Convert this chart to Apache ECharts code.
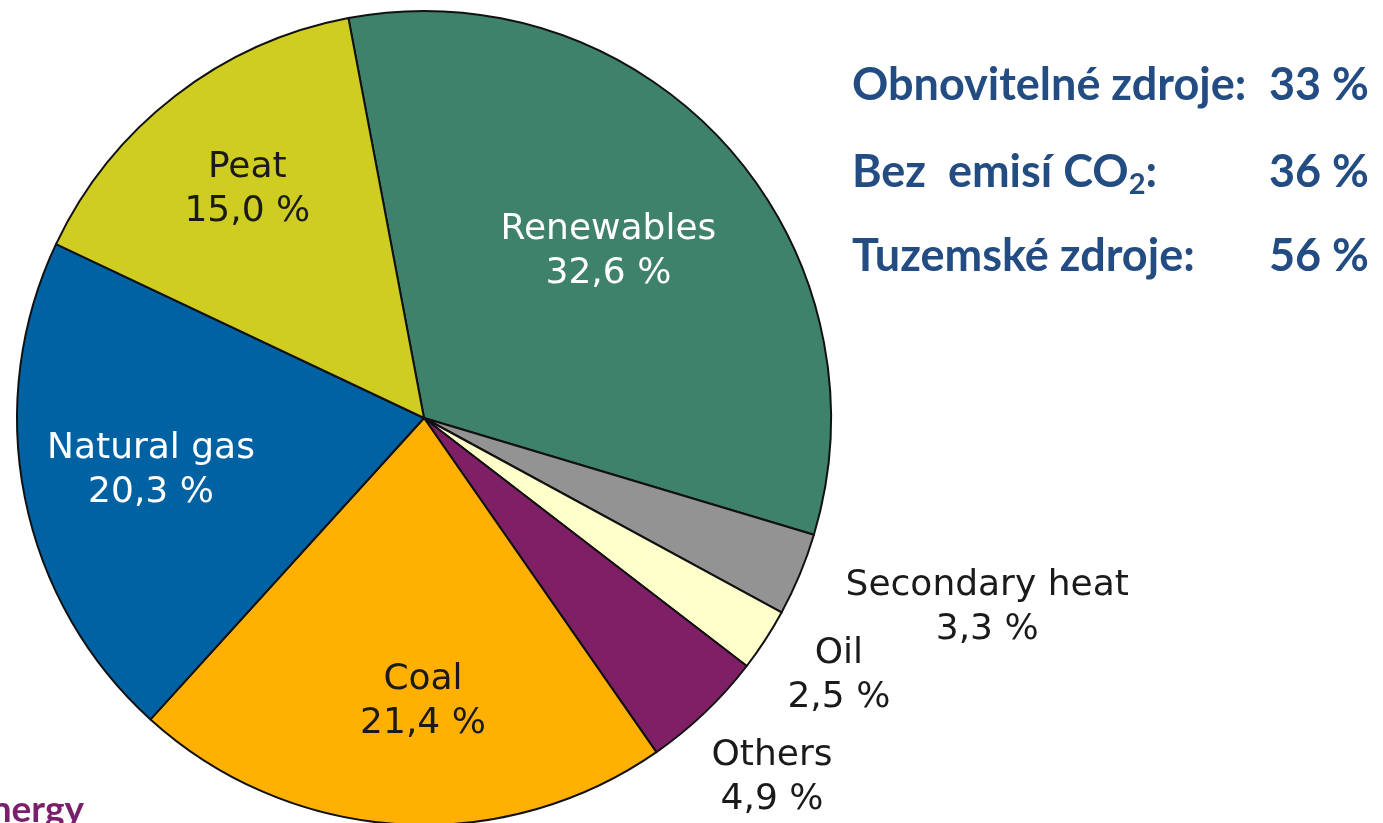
<!DOCTYPE html>
<html>
<head>
<meta charset="utf-8">
<script src="https://cdn.jsdelivr.net/npm/echarts@6/dist/echarts.min.js"></script>
<style>html,body{margin:0;padding:0;background:#fff}#c{width:1383px;height:823px}</style>
</head>
<body>
<div id="c"></div>
<script>
const categories = ['Renewables', 'Secondary heat', 'Oil', 'Others', 'Coal', 'Natural gas', 'Peat'];
const shares = [32.6, 3.3, 2.5, 4.9, 21.4, 20.3, 15.0];
const sideLabels = ['Obnovitelné zdroje:', 'Bez  emisí CO₂:', 'Tuzemské zdroje:'];
const sideValues = [33, 36, 56];

// styling
const colors = ['#3f826b', '#939393', '#ffffcc', '#7f1f66', '#ffb000', '#0062a3', '#cfcc22'];
const labelColors = ['#ffffff', '#1a1a1a', '#1a1a1a', '#1a1a1a', '#1a1a1a', '#ffffff', '#1a1a1a'];
const labelRadiusFactor = [0.61, 1.46, 1.20, 1.23, 0.698, 0.683, 0.71];
const labelAngleShift = [0, 4.0, 1.2, 0.4, 3.5, -0.4, 0];
const CX = 424, CY = 418, R = 407, START = 100.7;

const total = shares.reduce((a, b) => a + b, 0);
const midAngles = [];
let cum = 0;
shares.forEach(v => { midAngles.push(START - (cum + v / 2) / total * 360); cum += v; });

const chart = echarts.init(document.getElementById('c'));
const blue = '#234c82';
const sideFont = 'bold 45px Lato';
const graphics = [];
const rowY = [85, 172, 256];
sideLabels.forEach((t, i) => {
  let style;
  if (t.indexOf('₂') >= 0) {
    const parts = t.split('₂');
    style = {
      text: '{a|' + parts[0] + '}{s|2}{a|' + parts[1] + '}',
      rich: {
        a: { font: sideFont, fill: blue },
        s: { font: 'bold 29px Lato', fill: blue, padding: [26, 0, 0, 0] }
      },
      x: 852, y: rowY[i], textVerticalAlign: 'middle', textAlign: 'left'
    };
  } else {
    style = { text: t, font: sideFont, fill: blue, x: 852, y: rowY[i], textVerticalAlign: 'middle', textAlign: 'left' };
  }
  graphics.push({ type: 'text', style: style });
  graphics.push({ type: 'text', style: { text: sideValues[i] + ' %', font: sideFont, fill: blue, x: 1369, y: rowY[i], textAlign: 'right', textVerticalAlign: 'middle' } });
});
graphics.push({ type: 'text', z: 10, style: { text: 'energy', font: 'bold 37px Lato', fill: '#7a1f6c', x: 84, y: 829, textAlign: 'right', textVerticalAlign: 'bottom' } });

chart.setOption({
  animation: false,
  backgroundColor: '#ffffff',
  graphic: graphics,
  series: [{
    type: 'pie',
    center: [CX, CY],
    radius: [0, R],
    startAngle: START,
    clockwise: true,
    avoidLabelOverlap: false,
    silent: true,
    itemStyle: { borderColor: '#111', borderWidth: 2 },
    label: {
      show: true,
      position: 'inside',
      fontFamily: 'DejaVu Sans',
      fontSize: 36,
      lineHeight: 44,
      align: 'center',
      formatter: p => p.name + '\n' + p.value.toFixed(1).replace('.', ',') + ' %'
    },
    labelLine: { show: false },
    labelLayout: function (params) {
      const i = params.dataIndex;
      const a = (midAngles[i] + labelAngleShift[i]) * Math.PI / 180;
      const d = R * labelRadiusFactor[i];
      return { x: CX + d * Math.cos(a), y: CY - d * Math.sin(a), align: 'center', verticalAlign: 'middle' };
    },
    data: categories.map((c, i) => ({
      name: c, value: shares[i],
      itemStyle: { color: colors[i] },
      label: { color: labelColors[i] }
    }))
  }]
});
</script>
</body>
</html>
